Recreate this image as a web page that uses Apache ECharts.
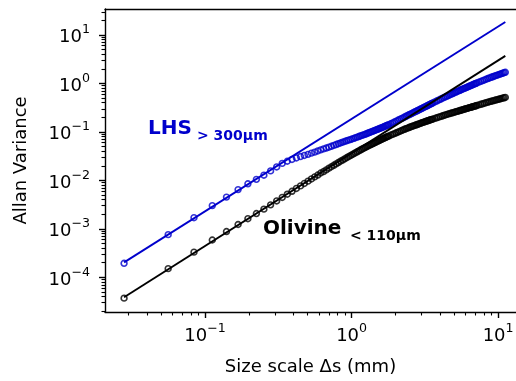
<!DOCTYPE html>
<html>
<head>
<meta charset="utf-8">
<script src="https://cdn.jsdelivr.net/npm/echarts@6/dist/echarts.min.js"></script>
<style>
  html, body { margin: 0; padding: 0; background: #fff; }
  #chart { width: 516px; height: 381px; }
</style>
</head>
<body>
<div id="chart"></div>
<script>
// size scale (mm), lag = n * 0.028 mm pixel
const sizeScaleMm = [0.028, 0.056, 0.084, 0.112, 0.14, 0.168, 0.196, 0.224, 0.252, 0.28, 0.308, 0.336, 0.364, 0.392, 0.42, 0.448,
  0.476, 0.504, 0.532, 0.56, 0.588, 0.616, 0.644, 0.672, 0.7, 0.728, 0.756, 0.784, 0.812, 0.84, 0.868, 0.896,
  0.924, 0.952, 0.98, 1.008, 1.036, 1.064, 1.092, 1.12, 1.148, 1.176, 1.204, 1.232, 1.26, 1.288, 1.316, 1.344,
  1.372, 1.4, 1.428, 1.456, 1.484, 1.512, 1.54, 1.568, 1.596, 1.624, 1.652, 1.68, 1.708, 1.736, 1.764, 1.792,
  1.848, 1.904, 1.96, 2.016, 2.072, 2.128, 2.184, 2.24, 2.296, 2.352, 2.408, 2.464, 2.52, 2.576, 2.632, 2.688,
  2.744, 2.8, 2.856, 2.912, 2.968, 3.024, 3.08, 3.136, 3.192, 3.248, 3.304, 3.36, 3.416, 3.472, 3.528, 3.584,
  3.696, 3.808, 3.92, 4.032, 4.144, 4.256, 4.368, 4.48, 4.592, 4.704, 4.816, 4.928, 5.04, 5.152, 5.264, 5.376,
  5.488, 5.6, 5.712, 5.824, 5.936, 6.048, 6.16, 6.272, 6.384, 6.496, 6.608, 6.72, 6.832, 6.944, 7.056, 7.168,
  7.392, 7.616, 7.84, 8.064, 8.288, 8.512, 8.736, 8.96, 9.184, 9.408, 9.632, 9.856, 10.08, 10.304, 10.528, 10.752,
  10.976, 11.2]

const lhsVariance = [1.95e-4, 7.59e-4, 1.70e-3, 3.02e-3, 4.52e-3, 6.46e-3, 8.51e-3, 1.05e-2, 1.28e-2, 1.57e-2, 1.89e-2, 2.24e-2,
  2.48e-2, 2.70e-2, 2.90e-2, 3.10e-2, 3.27e-2, 3.44e-2, 3.64e-2, 3.83e-2, 4.04e-2, 4.26e-2, 4.46e-2, 4.65e-2,
  4.84e-2, 5.05e-2, 5.26e-2, 5.48e-2, 5.70e-2, 5.92e-2, 6.12e-2, 6.34e-2,
  6.55e-2, 6.75e-2, 6.93e-2, 7.14e-2, 7.36e-2, 7.59e-2, 7.80e-2, 8.02e-2, 8.24e-2, 8.47e-2, 8.69e-2, 8.91e-2, 9.14e-2, 9.38e-2, 9.62e-2, 9.86e-2,
  0.1012, 0.1035, 0.1062, 0.1086, 0.1112, 0.1138, 0.1161, 0.1189, 0.1213, 0.1242, 0.1271, 0.1297, 0.1327, 0.1352, 0.138, 0.1413,
  0.1472, 0.1538, 0.1596, 0.1667, 0.1738, 0.1807, 0.1879, 0.195, 0.2023, 0.2099, 0.2178, 0.2254, 0.2328, 0.2404, 0.2483, 0.2564,
  0.2649, 0.2729, 0.2812, 0.2891, 0.2979, 0.3062, 0.3148, 0.3236, 0.3319, 0.3412, 0.3499, 0.3589, 0.3673, 0.3767, 0.3855, 0.3954,
  0.414, 0.4325, 0.4519, 0.471, 0.4887, 0.5082, 0.5272, 0.5458, 0.5649, 0.5848, 0.6039, 0.6237, 0.6427, 0.6622, 0.6823, 0.7015,
  0.7211, 0.7413, 0.7603, 0.7798, 0.7998, 0.8204, 0.8395, 0.861, 0.881, 0.9016, 0.9204, 0.9419, 0.9616, 0.9817, 1.002, 1.023,
  1.062, 1.102, 1.14, 1.18, 1.219, 1.259, 1.297, 1.337, 1.371, 1.409, 1.445, 1.483, 1.521, 1.556, 1.592, 1.626,
  1.663, 1.698]

const olivineVariance = [3.72e-5, 1.51e-4, 3.31e-4, 5.89e-4, 8.81e-4, 1.23e-3, 1.62e-3, 2.07e-3, 2.55e-3, 3.13e-3, 3.76e-3, 4.44e-3,
  5.18e-3, 5.96e-3, 6.81e-3, 7.69e-3, 8.65e-3, 9.64e-3, 1.07e-2, 1.18e-2, 1.29e-2, 1.42e-2, 1.52e-2, 1.65e-2,
  1.78e-2, 1.91e-2, 2.05e-2, 2.19e-2, 2.33e-2, 2.48e-2, 2.62e-2, 2.78e-2,
  2.93e-2, 3.08e-2, 3.24e-2, 3.40e-2, 3.56e-2, 3.72e-2, 3.89e-2, 4.06e-2, 4.23e-2, 4.40e-2, 4.56e-2, 4.73e-2, 4.91e-2, 5.07e-2, 5.24e-2, 5.41e-2,
  5.57e-2, 5.74e-2, 5.92e-2, 6.10e-2, 6.27e-2, 6.44e-2, 6.62e-2, 6.81e-2, 6.98e-2, 7.16e-2, 7.33e-2, 7.52e-2, 7.67e-2, 7.85e-2, 8.04e-2, 8.20e-2,
  8.55e-2, 8.89e-2, 9.23e-2, 9.57e-2, 9.91e-2, 0.1026, 0.1062, 0.1096, 0.113, 0.1164, 0.1197, 0.123, 0.1265, 0.1294, 0.1324, 0.1355,
  0.1387, 0.1419, 0.1449, 0.1483, 0.1514, 0.1545, 0.1574, 0.1607, 0.1637, 0.1667, 0.1694, 0.1722, 0.1754, 0.1782, 0.1811, 0.1837,
  0.1897, 0.1954, 0.2009, 0.207, 0.2123, 0.2183, 0.2239, 0.2296, 0.235, 0.2399, 0.2449, 0.25, 0.2553, 0.2606, 0.2655, 0.2704,
  0.2761, 0.2805, 0.2858, 0.2911, 0.2958, 0.3013, 0.3062, 0.3112, 0.3162, 0.3206, 0.3258, 0.3304, 0.3357, 0.3404, 0.3459, 0.3508,
  0.3606, 0.3707, 0.3802, 0.3899, 0.3999, 0.4093, 0.4188, 0.4285, 0.4365, 0.4457, 0.4539, 0.4624, 0.471, 0.4797, 0.4887, 0.4966,
  0.5047, 0.5129]

// power-law fits (end points)
const lhsFitX = [0.028, 11.2]
const lhsFitY = [2.04e-4, 18.5]
const olivineFitX = [0.028, 11.2]
const olivineFitY = [3.89e-5, 3.7]

// axes, in decades (right edge of the plot is cut off by the picture)
const xTickExp = [-1, 0, 1]
const yTickExp = [-4, -3, -2, -1, 0, 1]
const xRangeExp = [-1.683, 1.122]
const yRangeExp = [-4.715, 1.535]

const BLUE = '#0000cc'
const FONT = 'DejaVu Sans'

const minorTicks = (range) => {
  const out = []
  for (let d = Math.floor(range[0]); d <= Math.ceil(range[1]); d++) {
    for (let m = 2; m <= 9; m++) {
      const v = d + Math.log10(m)
      if (v >= range[0] && v <= range[1]) out.push(v)
    }
  }
  return out
}

const toLog = (xs, ys) => xs.map((x, i) => [Math.log10(x), Math.log10(ys[i])])

const powLabel = (v) => {
  const e = Math.round(v)
  return '{b|10}{s|' + (e < 0 ? '\u2212' + -e : e) + '}'
}
const powRich = {
  b: { fontSize: 18, fontFamily: FONT, color: '#000', lineHeight: 23, verticalAlign: 'bottom' },
  s: { fontSize: 12.6, fontFamily: FONT, color: '#000', lineHeight: 13, verticalAlign: 'top' },
}

const spine = { show: true, onZero: false, lineStyle: { color: '#000', width: 1.4 } }
const noLine = { show: false, onZero: false }

const chart = echarts.init(document.getElementById('chart'), null, { renderer: 'canvas' })

const option = {
  animation: false,
  backgroundColor: '#fff',
  grid: { left: 105, right: 0, top: 9, bottom: 69, outerBoundsMode: 'none' },
  xAxis: [
    {
      type: 'value', position: 'bottom', min: xRangeExp[0], max: xRangeExp[1],
      axisLine: spine,
      axisTick: { show: true, customValues: xTickExp, length: 6, lineStyle: { color: '#000', width: 1.4 } },
      axisLabel: { customValues: xTickExp, formatter: powLabel, rich: powRich, margin: 10 },
      splitLine: { show: false },
      name: 'Size scale \u0394s (mm)', nameLocation: 'middle', nameGap: 46,
      nameTextStyle: { fontSize: 18, fontFamily: FONT, color: '#000' },
    },
    {
      type: 'value', position: 'bottom', min: xRangeExp[0], max: xRangeExp[1],
      axisLine: noLine,
      axisTick: { show: true, customValues: minorTicks(xRangeExp), length: 3.5, lineStyle: { color: '#000', width: 1.1 } },
      axisLabel: { show: false }, splitLine: { show: false },
    },
    {
      type: 'value', position: 'top', min: xRangeExp[0], max: xRangeExp[1],
      axisLine: spine, axisTick: { show: false }, axisLabel: { show: false }, splitLine: { show: false },
    },
  ],
  yAxis: [
    {
      type: 'value', position: 'left', min: yRangeExp[0], max: yRangeExp[1],
      axisLine: spine,
      axisTick: { show: true, customValues: yTickExp, length: 6, lineStyle: { color: '#000', width: 1.4 } },
      axisLabel: { customValues: yTickExp, formatter: powLabel, rich: powRich, margin: 15 },
      splitLine: { show: false },
      name: 'Allan Variance', nameLocation: 'middle', nameGap: 75,
      nameTextStyle: { fontSize: 18, fontFamily: FONT, color: '#000' },
    },
    {
      type: 'value', position: 'left', min: yRangeExp[0], max: yRangeExp[1],
      axisLine: noLine,
      axisTick: { show: true, customValues: minorTicks(yRangeExp), length: 3.5, lineStyle: { color: '#000', width: 1.1 } },
      axisLabel: { show: false }, splitLine: { show: false },
    },
  ],
  series: [
    {
      type: 'scatter', name: 'LHS', silent: true,
      data: toLog(sizeScaleMm, lhsVariance),
      symbol: 'circle', symbolSize: 5.8,
      itemStyle: { color: 'rgba(0,0,0,0)', borderColor: BLUE, borderWidth: 1.6 },
    },
    {
      type: 'scatter', name: 'Olivine', silent: true,
      data: toLog(sizeScaleMm, olivineVariance),
      symbol: 'circle', symbolSize: 5.8,
      itemStyle: { color: 'rgba(0,0,0,0)', borderColor: '#000', borderWidth: 1.6 },
    },
    {
      type: 'line', silent: true, showSymbol: false,
      data: toLog(lhsFitX, lhsFitY),
      lineStyle: { color: BLUE, width: 1.9 },
    },
    {
      type: 'line', silent: true, showSymbol: false,
      data: toLog(olivineFitX, olivineFitY),
      lineStyle: { color: '#000', width: 1.9 },
    },
  ],
  graphic: [
    { type: 'text', x: 148, y: 128.5, style: { text: 'LHS', fill: BLUE, font: 'bold 20px "DejaVu Sans"', verticalAlign: 'middle' } },
    { type: 'text', x: 197, y: 136.7, style: { text: '> 300\u03bcm', fill: BLUE, font: 'bold 14px "DejaVu Sans"', verticalAlign: 'middle' } },
    { type: 'text', x: 263, y: 228.7, style: { text: 'Olivine', fill: '#000', font: 'bold 20px "DejaVu Sans"', verticalAlign: 'middle' } },
    { type: 'text', x: 350, y: 236.7, style: { text: '< 110\u03bcm', fill: '#000', font: 'bold 14px "DejaVu Sans"', verticalAlign: 'middle' } },
  ],
}

chart.setOption(option)
</script>
</body>
</html>
